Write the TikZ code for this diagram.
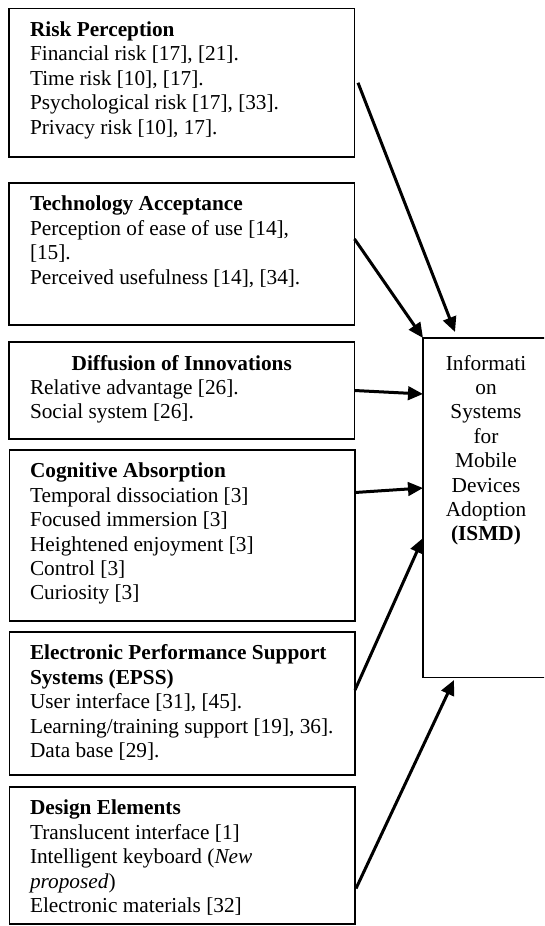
\documentclass[tikz,border=0pt]{standalone}
\usepackage{fontspec}
\setmainfont{Liberation Serif}
\usepackage{tikz}
\usetikzlibrary{arrows.meta,positioning}

\begin{document}
\begin{tikzpicture}[x=1pt,y=-1pt,
  bloc/.style={draw=black, line width=1.8pt, minimum width=345.5pt, inner sep=0pt, outer sep=0pt, anchor=north west},
  txt/.style={font=\fontsize{21.3}{24.4}\selectfont, align=left, inner sep=0pt, outer sep=0pt},
  fleche/.style={-{Triangle[length=15pt,width=13.5pt]}, line width=3pt, black}]
  \path[use as bounding box, fill=white] (0,0) rectangle (544,926);
  \clip (0,0) rectangle (544,926);
  % facteurs
  \node[bloc, minimum height=148.5pt] (RP) at (9,8.5) {};
  \node[bloc, minimum height=142pt] (TA) at (9,183) {};
  \node[bloc, minimum height=97pt] (DI) at (9,342) {};
  \node[bloc, minimum height=171pt] (CA) at (9.5,450) {};
  \node[bloc, minimum height=143pt] (EP) at (9.5,632) {};
  \node[bloc, minimum height=137pt] (DE) at (9.5,787) {};
  \node[bloc, minimum width=135pt, minimum height=339.5pt] (IS) at (423,338) {};
  % textes
  \node[txt, below right=10.9pt and 21pt of RP.north west] (RPt) {\strut\textbf{Risk Perception}\\Financial risk [17], [21].\\Time risk [10], [17].\\Psychological risk [17], [33].\\Privacy risk [10], 17].};
  \node[txt, below right=10.9pt and 21pt of TA.north west] (TAt) {\strut\textbf{Technology Acceptance}\\Perception of ease of use [14],\\{}[15].\\Perceived usefulness [14], [34].};
  \node[txt, below=11.9pt of DI.north] (DIh) {\strut\textbf{Diffusion of Innovations}};
  \node[txt, below right=35.3pt and 21pt of DI.north west] (DIt) {\strut Relative advantage [26].\\Social system [26].};
  \node[txt, below right=10.9pt and 20.5pt of CA.north west] (CAt) {\strut\textbf{Cognitive Absorption}\\Temporal dissociation [3]\\Focused immersion [3]\\Heightened enjoyment [3]\\Control [3]\\Curiosity [3]};
  \node[txt, below right=10.9pt and 20.5pt of EP.north west] (EPt) {\strut\textbf{Electronic Performance Support}\\\textbf{Systems (EPSS)}\\User interface [31], [45].\\Learning/training support [19], 36].\\Data base [29].};
  \node[txt, below right=10.9pt and 20.5pt of DE.north west] (DEt) {\strut\textbf{Design Elements}\\Translucent interface [1]\\Intelligent keyboard (\textit{New}\\\textit{proposed})\\Electronic materials [32]};
  \node[txt, align=center, anchor=north] (ISt) at (486,353) {\strut Informati\\on\\Systems\\for\\Mobile\\Devices\\Adoption\\\textbf{(ISMD)}};
  % liaisons
  \draw[fleche] ([xshift=3.5pt]RP.east) -- ([xshift=32pt,yshift=6pt]IS.north west);
  \draw[fleche] ([yshift=15pt]TA.east) -- (IS.north west);
  \draw[fleche] (DI.east) -- ([yshift=-56pt]IS.north west);
  \draw[fleche] ([yshift=43pt]CA.east) -- ([yshift=-150pt]IS.north west);
  \draw[fleche] ([yshift=13.5pt]EP.east) -- ([yshift=-200pt]IS.north west);
  \draw[fleche] ([xshift=1pt,yshift=-33pt]DE.east) -- ([xshift=31pt,yshift=-2.5pt]IS.south west);
\end{tikzpicture}
\end{document}
